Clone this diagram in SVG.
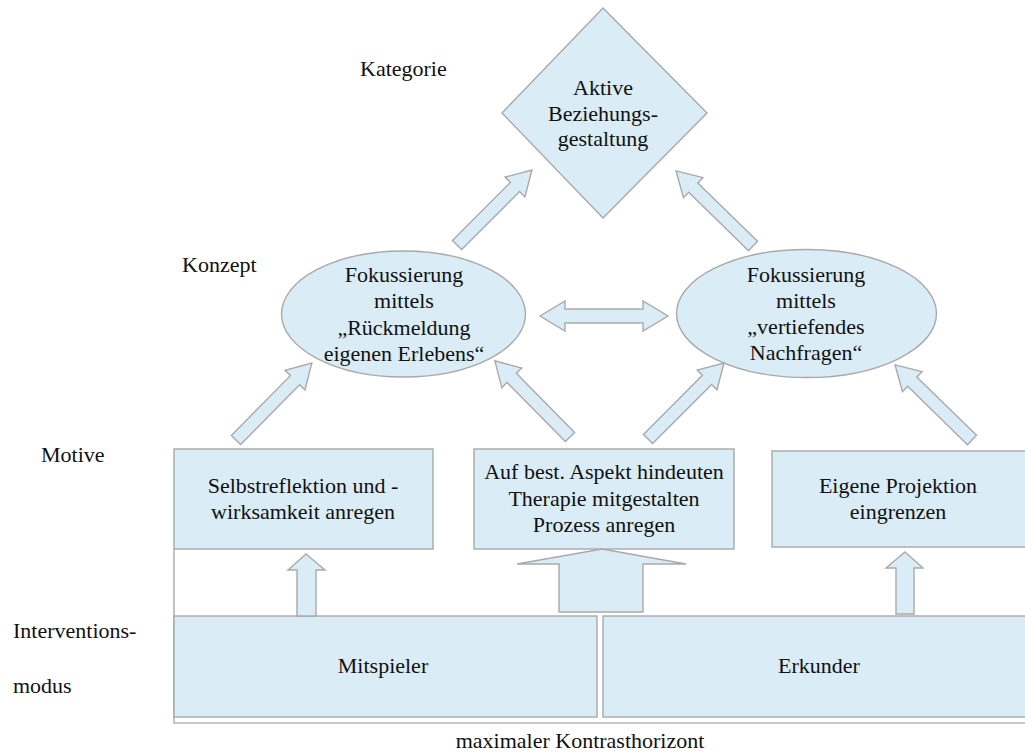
<svg xmlns="http://www.w3.org/2000/svg" width="1025" height="753" viewBox="0 0 1025 753">
<style>
.s{fill:#daecf6;stroke:#a9a9a9;stroke-width:1.4}
.t{font-family:"Liberation Serif","Times New Roman",serif;font-size:22px;fill:#111;text-anchor:middle}
.l{font-family:"Liberation Serif","Times New Roman",serif;font-size:22px;fill:#111}
.f{fill:none;stroke:#b5b5b5;stroke-width:1.6}
</style>
<rect width="1025" height="753" fill="#fff"/>
<g id="labels">
<text class="l" x="360" y="76">Kategorie</text>
<text class="l" x="182" y="272">Konzept</text>
<text class="l" x="41" y="462">Motive</text>
<text class="l" x="13" y="638">Interventions-</text>
<text class="l" x="13" y="693">modus</text>
<text class="t" x="580" y="748">maximaler Kontrasthorizont</text>
</g>
<path id="frame" class="f" d="M174,549 V723 H1025"/>
<g id="kategorie">
<polygon class="s" points="603,8 707,113 603,218 502,113"/>
<text class="t" x="603" y="95">Aktive</text>
<text class="t" x="603" y="121">Beziehungs-</text>
<text class="t" x="603" y="146">gestaltung</text>
</g>
<g id="konzept1">
<ellipse class="s" cx="403.5" cy="314" rx="122" ry="63"/>
<text class="t" x="404" y="282">Fokussierung</text>
<text class="t" x="404" y="308">mittels</text>
<text class="t" x="404" y="335">„Rückmeldung</text>
<text class="t" x="404" y="361">eigenen Erlebens“</text>
</g>
<g id="konzept2">
<ellipse class="s" cx="806.5" cy="313.5" rx="130" ry="64"/>
<text class="t" x="806" y="282">Fokussierung</text>
<text class="t" x="806" y="308">mittels</text>
<text class="t" x="806" y="334">„vertiefendes</text>
<text class="t" x="806" y="360">Nachfragen“</text>
</g>
<g id="motiv1">
<rect class="s" x="174" y="449" width="259" height="100"/>
<text class="t" x="303" y="493">Selbstreflektion und -</text>
<text class="t" x="303" y="519">wirksamkeit anregen</text>
</g>
<g id="motiv2">
<rect class="s" x="474" y="449" width="260" height="100"/>
<text class="t" x="604" y="479">Auf best. Aspekt hindeuten</text>
<text class="t" x="604" y="506">Therapie mitgestalten</text>
<text class="t" x="604" y="532">Prozess anregen</text>
</g>
<g id="motiv3">
<rect class="s" x="772" y="451" width="254" height="96"/>
<text class="t" x="898" y="493">Eigene Projektion</text>
<text class="t" x="898" y="519">eingrenzen</text>
</g>
<g id="modus1">
<rect class="s" x="174" y="616" width="423" height="101"/>
<text class="t" x="383" y="673">Mitspieler</text>
</g>
<g id="modus2">
<rect class="s" x="603" y="616" width="423" height="101"/>
<text class="t" x="819" y="673">Erkunder</text>
</g>
<g id="connectors">
<path class="s" transform="translate(457,245) rotate(-45)" d="M0,-6.5 H82 V-14 L106,0 L82,14 V6.5 H0 Z"/>
<path class="s" transform="translate(753,246) rotate(-135.7)" d="M0,-6.5 H83.5 V-14 L107.5,0 L83.5,14 V6.5 H0 Z"/>
<path class="s" transform="translate(236,440) rotate(-45.4)" d="M0,-6.5 H84 V-14 L108,0 L84,14 V6.5 H0 Z"/>
<path class="s" transform="translate(570,437) rotate(-134.6)" d="M0,-6.5 H83 V-14 L107,0 L83,14 V6.5 H0 Z"/>
<path class="s" transform="translate(648,439) rotate(-45)" d="M0,-6.5 H83.5 V-14 L107.5,0 L83.5,14 V6.5 H0 Z"/>
<path class="s" transform="translate(972,440) rotate(-135.7)" d="M0,-6.5 H83.5 V-14 L107.5,0 L83.5,14 V6.5 H0 Z"/>
<polygon class="s" points="540,316 565,301 565,309 643,309 643,301 668,316 643,331 643,323 565,323 565,331"/>
<polygon class="s" points="306,554 325,570 316,570 316,616 297,616 297,570 288,570"/>
<polygon class="s" points="602,549 686,564 643,564 643,612 559,612 559,564 517,564"/>
<polygon class="s" points="905,552 923,568 914,568 914,614 896,614 896,568 886,568"/>
</g>
</svg>
